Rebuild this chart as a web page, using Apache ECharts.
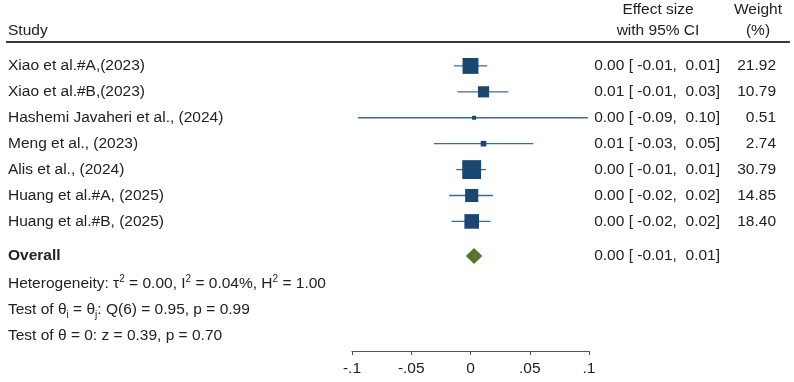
<!DOCTYPE html>
<html>
<head>
<meta charset="utf-8">
<script src="https://cdn.jsdelivr.net/npm/echarts@6/dist/echarts.min.js"></script>
<style>
  html, body { margin: 0; padding: 0; background: #fff; }
  #chart { width: 794px; height: 382px; }
</style>
</head>
<body>
<div id="chart"></div>
<script>
// study rows
const studies = [
  "Xiao et al.#A,(2023)",
  "Xiao et al.#B,(2023)",
  "Hashemi Javaheri et al., (2024)",
  "Meng et al., (2023)",
  "Alis et al., (2024)",
  "Huang et al.#A, (2025)",
  "Huang et al.#B, (2025)"
];
const effects = [0.000, 0.011, 0.003, 0.011, 0.001, 0.001, 0.001];
const lowers = [-0.014, -0.011, -0.095, -0.031, -0.012, -0.018, -0.016];
const uppers = [0.014, 0.032, 0.099, 0.053, 0.013, 0.019, 0.017];
const weights = [21.92, 10.79, 0.51, 2.74, 30.79, 14.85, 18.40];
const ciLabels = [
  "0.00 [ -0.01,  0.01]",
  "0.01 [ -0.01,  0.03]",
  "0.00 [ -0.09,  0.10]",
  "0.01 [ -0.03,  0.05]",
  "0.00 [ -0.01,  0.01]",
  "0.00 [ -0.02,  0.02]",
  "0.00 [ -0.02,  0.02]"
];
const weightLabels = ["21.92", "10.79", "0.51", "2.74", "30.79", "14.85", "18.40"];

// overall estimate
const overallEffect = 0.003;
const overallLower = -0.004;
const overallUpper = 0.010;
const overallLabel = "0.00 [ -0.01,  0.01]";

const xTicks = [-0.1, -0.05, 0, 0.05, 0.1];
const xTickLabels = ["-.1", "-.05", "0", ".05", ".1"];

const FONT = "'Liberation Sans', Arial, sans-serif";
const FS = 15.5;
const TXT = "#222";
const NAVY = "#1a476f";
const CI_LINE = "#42698f";
const GREEN = "#55752f";

const chart = echarts.init(document.getElementById("chart"));

const studyData = studies.map((s, i) => [i + 1, effects[i], lowers[i], uppers[i], weights[i]]);

function renderStudy(params, api) {
  const i = params.dataIndex;
  const row = api.value(0);
  const pe = api.coord([api.value(1), row]);
  const lo = api.coord([api.value(2), row]);
  const hi = api.coord([api.value(3), row]);
  const side = Math.max(4, 3.4 * Math.sqrt(api.value(4)));
  return {
    type: "group",
    children: [
      { type: "line", shape: { x1: lo[0], y1: lo[1], x2: hi[0], y2: hi[1] },
        style: { stroke: CI_LINE, lineWidth: 1.3 } },
      { type: "rect", shape: { x: pe[0] - side / 2, y: pe[1] - side / 2, width: side, height: side },
        style: { fill: NAVY } },
      { type: "text", x: 8, y: pe[1],
        style: { text: studies[i], font: FS + "px " + FONT, fill: TXT, align: "left", verticalAlign: "middle" } },
      { type: "text", x: 720, y: pe[1],
        style: { text: ciLabels[i], font: FS + "px " + FONT, fill: TXT, align: "right", verticalAlign: "middle" } },
      { type: "text", x: 776, y: pe[1],
        style: { text: weightLabels[i], font: FS + "px " + FONT, fill: TXT, align: "right", verticalAlign: "middle" } }
    ]
  };
}

function renderOverall(params, api) {
  const row = api.value(0);
  const pe = api.coord([api.value(1), row]);
  const lo = api.coord([api.value(2), row]);
  const hi = api.coord([api.value(3), row]);
  const h = 8;
  return {
    type: "group",
    children: [
      { type: "polygon",
        shape: { points: [[lo[0], pe[1]], [pe[0], pe[1] - h], [hi[0], pe[1]], [pe[0], pe[1] + h]] },
        style: { fill: GREEN } },
      { type: "text", x: 8, y: pe[1],
        style: { text: "Overall", font: "bold " + FS + "px " + FONT, fill: TXT, align: "left", verticalAlign: "middle" } },
      { type: "text", x: 720, y: pe[1],
        style: { text: overallLabel, font: FS + "px " + FONT, fill: TXT, align: "right", verticalAlign: "middle" } }
    ]
  };
}

const rich = {
  sup: { fontSize: 10, lineHeight: 8, verticalAlign: "top", fontFamily: FONT, color: TXT },
  sub: { fontSize: 10, lineHeight: 6, verticalAlign: "bottom", fontFamily: FONT, color: TXT }
};

function statText(text, y) {
  return {
    type: "text", left: 8, top: y - 10,
    style: { text: text, font: FS + "px " + FONT, fill: TXT, rich: rich, lineHeight: 20 }
  };
}

function headText(text, x, y, align) {
  return {
    type: "text", x: x, y: y,
    style: { text: text, font: FS + "px " + FONT, fill: TXT, align: align, verticalAlign: "middle" }
  };
}

chart.setOption({
  animation: false,
  grid: { left: 352, right: 205, top: 40, bottom: 31 },
  xAxis: {
    type: "value",
    position: "bottom",
    min: -0.1,
    max: 0.1,
    interval: 0.05,
    splitLine: { show: false },
    axisLine: { onZero: false, lineStyle: { color: "#555", width: 1 } },
    axisTick: { show: true, inside: false, length: 4, lineStyle: { color: "#555" } },
    axisLabel: {
      fontSize: FS, fontFamily: FONT, color: TXT, margin: 10,
      formatter: v => {
        const k = xTicks.findIndex(t => Math.abs(t - v) < 1e-9);
        return k >= 0 ? xTickLabels[k] : "";
      }
    }
  },
  yAxis: { type: "value", inverse: true, min: 0, max: 12, show: false },
  series: [
    { type: "custom", renderItem: renderStudy, data: studyData, clip: false,
      encode: { x: [1, 2, 3], y: 0 } },
    { type: "custom", renderItem: renderOverall, clip: false,
      data: [[8.33, overallEffect, overallLower, overallUpper]], encode: { x: [1, 2, 3], y: 0 } }
  ],
  graphic: [
    headText("Study", 8, 31, "left"),
    headText("Effect size", 658, 10, "center"),
    headText("with 95% CI", 658, 31, "center"),
    headText("Weight", 758, 10, "center"),
    headText("(%)", 758, 31, "center"),
    { type: "line", shape: { x1: 6, y1: 42, x2: 790, y2: 42 },
      style: { stroke: "#3a3a3a", lineWidth: 2 } },
    statText("Heterogeneity: τ{sup|2} = 0.00, I{sup|2} = 0.04%, H{sup|2} = 1.00", 284),
    statText("Test of θ{sub|i} = θ{sub|j}: Q(6) = 0.95, p = 0.99", 310),
    statText("Test of θ = 0: z = 0.39, p = 0.70", 336)
  ]
});
</script>
</body>
</html>
